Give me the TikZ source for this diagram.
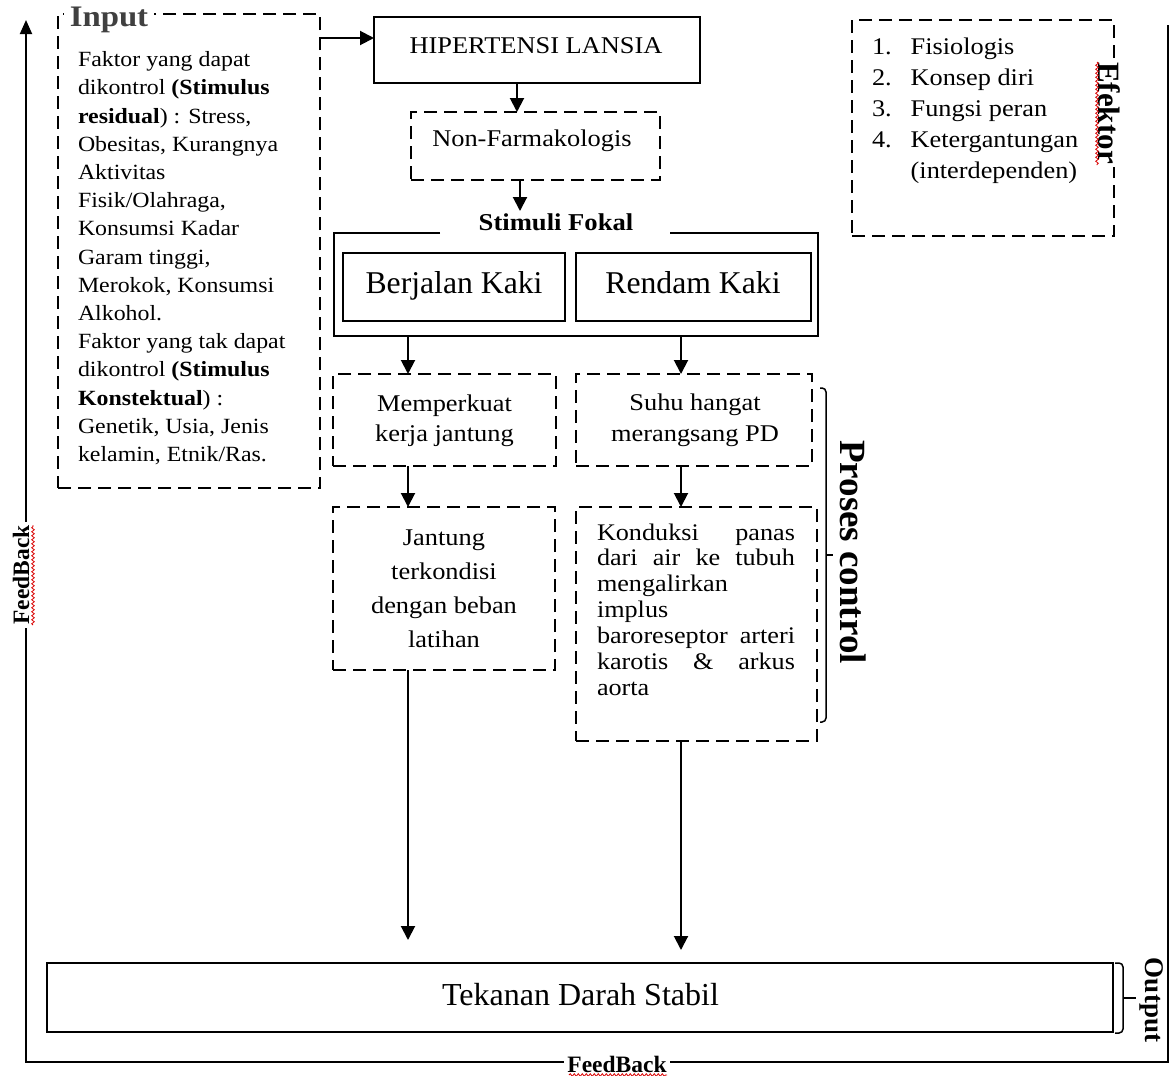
\documentclass[tikz,border=0pt]{standalone}
\usepackage{fontspec}
\setmainfont{Liberation Serif}
\newfontfamily\widefont{Liberation Serif}[FakeStretch=1.1]
\usetikzlibrary{arrows.meta,decorations.pathmorphing}
\begin{document}
\begin{tikzpicture}[x=1pt,y=-1pt,
  dbox/.style={draw,line width=2pt,dash pattern=on 13pt off 7pt,inner sep=0pt,outer sep=0pt,anchor=north west},
  sbox/.style={draw,line width=2pt,inner sep=0pt,outer sep=0pt,anchor=north west},
  ghost/.style={inner sep=0pt,outer sep=0pt,anchor=north west},
  arr/.style={line width=2pt,-{Triangle[length=14pt,width=14pt]}},
  frameline/.style={line width=1.8pt},
  brc/.style={line width=1.5pt,rounded corners=4pt},
  squig/.style={red!85!black,line width=0.8pt,decorate,decoration={snake,amplitude=1.3pt,segment length=4pt}},
  tw/.style={inner sep=0pt,outer sep=0pt,font=\widefont\fontsize{24}{30}\selectfont},
]
\useasboundingbox (0,0) rectangle (1176,1076);

% ---------- outer feedback frame ----------
\coordinate (ftl) at (26,20);
\coordinate (fbl) at (26,1062);
\coordinate (fbr) at (1168,1062);
\coordinate (ftr) at (1168,25);
\draw[frameline,-{Triangle[length=14pt,width=12pt]}] (ftr) -- (fbr) -- (fbl) -- (ftl);
\node[fill=white,inner xsep=3pt,inner ysep=1pt,rotate=90,font=\bfseries\fontsize{23.5}{25}\selectfont] (fbleft) at (21,575) {FeedBack};
\node[fill=white,inner xsep=3pt,inner ysep=1pt,font=\bfseries\fontsize{23.5}{25}\selectfont] (fbbottom) at (617,1064) {FeedBack};
\draw[squig] (33,625) -- (33,525);
\draw[squig] (569,1075) -- (667,1075);

% ---------- Input ----------
\node[dbox,minimum width=262pt,minimum height=474pt] (inbox) at (58,14) {};
\node[inner ysep=0pt,inner xsep=6pt,fill=white,text=black!75,anchor=base,font=\widefont\bfseries\fontsize{29.8}{31}\selectfont] (inlab) at (109,26.7) {Input};
\node[ghost,font=\widefont\fontsize{21.7}{28.2}\selectfont] (intext) at (78,47) {\begin{tabular}{@{}l@{}}
Faktor yang dapat\\
dikontrol \textbf{(Stimulus}\\
\textbf{residual}) : Stress,\\
Obesitas, Kurangnya\\
Aktivitas\\
Fisik/Olahraga,\\
Konsumsi Kadar\\
Garam tinggi,\\
Merokok, Konsumsi\\
Alkohol.\\
Faktor yang tak dapat\\
dikontrol \textbf{(Stimulus}\\
\textbf{Konstektual}) :\\
Genetik, Usia, Jenis\\
kelamin, Etnik/Ras.
\end{tabular}};

% ---------- Efektor ----------
\node[dbox,minimum width=262pt,minimum height=216pt] (efbox) at (852,20) {};
\node[ghost,font=\widefont\fontsize{23.9}{31}\selectfont] (eflist) at (872,32.3) {\begin{tabular}{@{}l@{\hspace{19pt}}l@{}}
1. & Fisiologis\\
2. & Konsep diri\\
3. & Fungsi peran\\
4. & Ketergantungan\\
   & (interdependen)
\end{tabular}};
\node[rotate=-90,fill=white,inner xsep=3pt,inner ysep=1pt,font=\bfseries\fontsize{31}{33}\selectfont] (eflab) at (1109,113) {Efektor};
\draw[squig] (1097,62) -- (1097,165);

% ---------- main chain ----------
\node[sbox,minimum width=326pt,minimum height=66pt] (hip) at (374,17) {};
\node[tw,anchor=base] (hipt) at (536,53.3) {HIPERTENSI LANSIA};

\node[dbox,minimum width=249pt,minimum height=68pt] (nonf) at (411,112) {};
\node[tw,anchor=base] (nonft) at (532,146.7) {Non-Farmakologis};

\node[ghost,minimum width=484pt,minimum height=103pt] (sfbox) at (334,233) {};
\draw[line width=2pt] ([xshift=106pt]sfbox.north west) -- (sfbox.north west) -- (sfbox.south west) -- (sfbox.south east) -- (sfbox.north east) -- ([xshift=-148pt]sfbox.north east);
\node[inner sep=0pt,anchor=base,font=\widefont\bfseries\fontsize{24.2}{26}\selectfont] (sflab) at (556,230) {Stimuli Fokal};

\node[sbox,minimum width=222pt,minimum height=68pt] (bk) at (343,253) {};
\node[inner sep=0pt,anchor=base,font=\fontsize{31.7}{34}\selectfont] (bkt) at (454,293.3) {Berjalan Kaki};
\node[sbox,minimum width=235pt,minimum height=68pt] (rk) at (576,253) {};
\node[inner sep=0pt,anchor=base,font=\fontsize{31.7}{34}\selectfont] (rkt) at (693,293.3) {Rendam Kaki};

\node[dbox,minimum width=223pt,minimum height=92pt] (mem) at (333,374) {};
\node[tw,anchor=north] (memt) at (444.5,390.7) {\begin{tabular}{@{}c@{}}Memperkuat\\kerja jantung\end{tabular}};

\node[dbox,minimum width=236pt,minimum height=92pt] (suhu) at (576,374) {};
\node[tw,anchor=north,font=\widefont\fontsize{24}{31}\selectfont] (suhut) at (695,388.3) {\begin{tabular}{@{}c@{}}Suhu hangat\\merangsang PD\end{tabular}};

\node[dbox,minimum width=222pt,minimum height=163pt] (jan) at (333,507) {};
\node[tw,anchor=north,font=\widefont\fontsize{24}{34.3}\selectfont] (jant) at (444,521) {\begin{tabular}{@{}c@{}}Jantung\\terkondisi\\dengan beban\\latihan\end{tabular}};

\node[dbox,minimum width=241pt,minimum height=234pt] (kon) at (576,507) {};
\node[ghost,font=\widefont\fontsize{23.8}{25.9}\selectfont] (kont) at (597,521.9) {\begin{tabular}{@{}p{198pt}@{}}
Konduksi\hfill panas\\
dari\hfill air\hfill ke\hfill tubuh\\
mengalirkan\\
implus\\
baroreseptor\hfill arteri\\
karotis\hfill\&\hfill arkus\\
aorta
\end{tabular}};

% Proses control brace
\draw[brc] (820,388) -| (826,722) -- (820,722);
\draw[line width=1.5pt] (826,555) -- (833,555);
\node[rotate=-90,inner sep=0pt,font=\bfseries\fontsize{37}{39}\selectfont] (pclab) at (853,552) {Proses control};

% Output
\node[sbox,line width=2.5pt,minimum width=1066pt,minimum height=69pt] (tek) at (47,963) {};
\node[inner sep=0pt,anchor=base,font=\fontsize{32}{34}\selectfont] (tekt) at (580.5,1005) {Tekanan Darah Stabil};
\draw[brc] (1115,963) -| (1123,1033) -- (1115,1033);
\draw[line width=1.5pt] (1123,998) -- (1136,998);
\node[rotate=-90,inner sep=0pt,font=\bfseries\fontsize{27}{29}\selectfont] (outlab) at (1152,1000) {Output};

% ---------- connectors ----------
\coordinate (xh) at (517,0);
\coordinate (xn) at (520,0);
\coordinate (xl) at (408,0);
\coordinate (xr) at (681,0);
\draw[arr] ([yshift=-24pt]inbox.north east) -- ([yshift=-21pt]hip.north west);
\draw[arr] (hip.south -| xh) -- (nonf.north -| xh);
\draw[arr,shorten >=2pt] (nonf.south -| xn) -- (sflab.north -| xn);
\draw[arr] (sfbox.south -| xl) -- (mem.north -| xl);
\draw[arr] (sfbox.south -| xr) -- (suhu.north -| xr);
\draw[arr] (mem.south -| xl) -- (jan.north -| xl);
\draw[arr] (suhu.south -| xr) -- (kon.north -| xr);
\draw[arr,shorten >=23pt] (jan.south -| xl) -- (tek.north -| xl);
\draw[arr,shorten >=13pt] (kon.south -| xr) -- (tek.north -| xr);
\end{tikzpicture}
\end{document}
